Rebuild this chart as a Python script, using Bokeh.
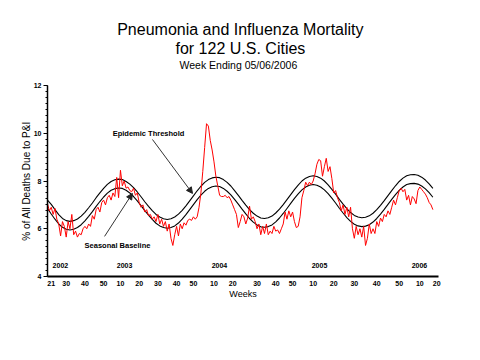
from bokeh.plotting import figure
from bokeh.models import (Label, Arrow, NormalHead, FixedTicker, SingleIntervalTicker,
                          Range1d, ColumnDataSource, Title)
from bokeh.core.properties import value
from bokeh.embed import file_html
from bokeh.resources import INLINE

# ---- data (week index 0 = 2002 week 21) ----
observed = [
    7.05, 6.75, 6.9, 6.6, 6.85, 6.4, 6.2, 5.7, 6.3, 6.1,
    5.65, 6.3, 6.0, 6.6, 5.75, 5.9, 5.65, 5.8, 5.75, 6.0,
    6.1, 6.0, 6.2, 6.1, 6.55, 6.4, 6.8, 6.9, 6.7, 7.1,
    7.2, 7.0, 7.3, 7.4, 7.2, 7.5, 7.35, 8.15, 7.3, 8.45,
    7.8, 8.0, 7.7, 7.75, 7.6, 7.55, 7.7, 7.4, 7.5, 7.1,
    6.9, 7.0, 6.7, 6.8, 6.55, 6.6, 6.4, 6.5, 6.3, 6.6,
    6.2, 6.4, 6.1, 6.3, 5.9, 6.2, 5.6, 5.3, 5.75, 6.1,
    5.7, 6.2, 6.0, 6.25, 6.15, 6.35, 6.4, 6.35, 6.5, 6.4,
    6.5, 6.9, 7.5, 8.4, 9.4, 10.4, 10.3, 9.7, 9.3, 8.8,
    8.2, 7.8, 7.4, 7.35, 7.35, 7.4, 7.3, 7.35, 7.2, 7.0,
    6.8, 6.6, 6.05, 6.3, 6.6, 6.5, 6.2, 6.45, 6.95, 6.4,
    6.5, 6.3, 6.0, 6.2, 5.75, 6.1, 5.8, 6.2, 5.75, 5.9,
    5.8, 6.1, 5.9, 5.95, 5.8, 6.0, 6.2, 6.7, 6.4, 6.75,
    6.5, 6.7, 6.3, 6.05, 6.1, 6.5, 7.3, 7.6, 7.95, 7.8,
    7.95, 7.85, 8.0, 8.3, 8.7, 8.9, 8.85, 8.2, 8.6, 8.95,
    8.4, 8.6, 8.1, 7.5, 7.6, 7.3, 7.1, 6.75, 7.0, 6.6,
    6.9, 6.5, 6.9, 6.0, 5.6, 6.1, 5.75, 6.0, 5.65, 6.1,
    5.3, 5.6, 6.2, 5.8, 6.0, 5.8, 6.3, 6.1, 6.45, 6.3,
    6.6, 6.5, 6.75, 6.6, 6.9, 7.2, 7.0, 7.3, 7.6, 7.7,
    7.55, 7.65, 7.2, 7.4, 7.0, 7.35, 7.25, 7.05, 7.6, 7.75,
    7.65, 7.55, 7.45, 7.3, 7.1, 7.0, 6.8,
]
weeks = list(range(len(observed)))

curve_weeks = list(range(0, 207, 2))
baseline = [
    6.85, 6.62, 6.40, 6.20, 6.06, 5.98, 5.95,
    5.98, 6.05, 6.17, 6.33, 6.52, 6.72, 6.94, 7.14, 7.33, 7.49, 7.61, 7.68, 7.71,
    7.69, 7.61, 7.50, 7.35, 7.17, 6.97, 6.76, 6.57, 6.39, 6.23, 6.12, 6.05, 6.02,
    6.05, 6.12, 6.24, 6.40, 6.59, 6.80, 7.01, 7.22, 7.41, 7.57, 7.69, 7.76, 7.79,
    7.77, 7.69, 7.57, 7.42, 7.23, 7.03, 6.82, 6.62, 6.43, 6.28, 6.16, 6.08, 6.06,
    6.09, 6.16, 6.29, 6.45, 6.64, 6.85, 7.06, 7.27, 7.46, 7.63, 7.75, 7.82, 7.85,
    7.82, 7.75, 7.63, 7.47, 7.28, 7.08, 6.86, 6.66, 6.47, 6.31, 6.19, 6.12, 6.09,
    6.11, 6.17, 6.28, 6.43, 6.61, 6.81, 7.02, 7.23, 7.43, 7.61, 7.75, 7.85, 7.89, 7.90,
    7.87, 7.79, 7.67, 7.51, 7.32,
]
threshold = [
    7.20, 7.02, 6.80, 6.59, 6.43, 6.34, 6.31,
    6.34, 6.41, 6.53, 6.69, 6.88, 7.08, 7.30, 7.50, 7.69, 7.86, 7.98, 8.05, 8.08,
    8.06, 7.98, 7.87, 7.72, 7.54, 7.34, 7.13, 6.94, 6.76, 6.60, 6.49, 6.42, 6.39,
    6.42, 6.49, 6.61, 6.77, 6.96, 7.17, 7.38, 7.59, 7.78, 7.94, 8.06, 8.13, 8.16,
    8.14, 8.06, 7.94, 7.79, 7.60, 7.40, 7.19, 6.99, 6.80, 6.65, 6.53, 6.45, 6.43,
    6.46, 6.53, 6.66, 6.82, 7.01, 7.22, 7.43, 7.64, 7.83, 8.00, 8.12, 8.19, 8.22,
    8.19, 8.12, 8.00, 7.84, 7.65, 7.45, 7.23, 7.03, 6.84, 6.68, 6.56, 6.49, 6.46,
    6.48, 6.54, 6.65, 6.80, 6.98, 7.18, 7.39, 7.60, 7.80, 7.98, 8.12, 8.22, 8.26, 8.27,
    8.24, 8.16, 8.04, 7.88, 7.69,
]

tick_labels = ["21", "30", "40", "50", "10", "20", "30", "40", "50", "10", "20",
               "30", "40", "50", "10", "20", "30", "40", "50", "10", "20"]
tick_pos = [2, 10, 20, 30, 39, 49, 59, 69, 78, 89, 99,
            112, 122, 131, 142, 153, 164, 176, 188, 199, 208]
years = ["2002", "2003", "2004", "2005", "2006"]
year_pos = [6.9, 41.2, 91.9, 145.4, 198.8]

FONT = "Liberation Sans"

p = figure(width=472, height=352, x_range=Range1d(0, 209), y_range=Range1d(4, 12),
           output_backend="svg", toolbar_location=None,
           min_border_left=47, min_border_right=34, min_border_top=85, min_border_bottom=76)
p.outline_line_color = None
p.grid.visible = False

# titles (first added = nearest the plot); a blank spacer keeps a gap above the frame
p.add_layout(Title(text=" ", text_font=FONT, text_font_size="1px", standoff=12), "above")
p.add_layout(Title(text="Week Ending 05/06/2006", text_font=FONT, text_font_size="10.5px",
                   text_font_style="normal", text_color="black", align="left",
                   offset=132, standoff=0), "above")
p.add_layout(Title(text="for 122 U.S. Cities", text_font=FONT, text_font_size="16px",
                   text_font_style="normal", text_color="black", align="left",
                   offset=128, standoff=0), "above")
p.add_layout(Title(text="Pneumonia and Influenza Mortality", text_font=FONT,
                   text_font_size="16px", text_font_style="normal", text_color="black",
                   align="left", offset=69.7, standoff=0), "above")

# lines
p.line(curve_weeks, threshold, line_color="black", line_width=1.1)
p.line(curve_weeks, baseline, line_color="black", line_width=1.1)
p.line(weeks, observed, line_color="#ff0000", line_width=1)

# axes
xa = p.xaxis[0]
xa.ticker = FixedTicker(ticks=tick_pos)
xa.major_label_overrides = {tp: lab for tp, lab in zip(tick_pos, tick_labels)}
xa.major_tick_out = 0
xa.major_tick_in = 0
xa.minor_tick_line_color = None
xa.axis_line_width = 2
xa.axis_line_color = "black"
xa.major_label_text_font = FONT
xa.major_label_text_font_size = "7px"
xa.major_label_text_font_style = "bold"
xa.major_label_text_color = "black"
xa.major_label_standoff = 4
xa.axis_label = "Weeks"
xa.axis_label_text_font = FONT
xa.axis_label_text_font_size = "9px"
xa.axis_label_text_font_style = "normal"
xa.axis_label_text_color = "black"
xa.axis_label_standoff = 0

ya = p.yaxis[0]
ya.ticker = SingleIntervalTicker(interval=2, num_minor_ticks=8)
ya.major_tick_out = 4
ya.major_tick_in = 0
ya.minor_tick_out = 2
ya.minor_tick_in = 0
ya.axis_line_width = 1.5
ya.axis_line_color = "black"
ya.major_tick_line_color = "black"
ya.minor_tick_line_color = "black"
ya.major_label_text_font = FONT
ya.major_label_text_font_size = "7px"
ya.major_label_text_font_style = "bold"
ya.major_label_text_color = "black"
ya.major_label_standoff = 2
ya.axis_label = "% of All Deaths Due to P&I"
ya.axis_label_text_font = FONT
ya.axis_label_text_font_size = "10px"
ya.axis_label_text_font_style = "normal"
ya.axis_label_text_color = "black"
ya.axis_label_standoff = -1

# year labels
ysrc = ColumnDataSource(dict(x=year_pos, y=[4.46] * len(years), t=years))
p.text(x="x", y="y", text="t", source=ysrc, text_font=value(FONT), text_font_size="7px",
       text_font_style="bold", text_align="center", text_baseline="middle", text_color="black")

# annotations
p.add_layout(Label(x=54.0, y=9.99, text="Epidemic Threshold", text_font=FONT,
                   text_font_size="7.5px", text_font_style="bold", text_align="center",
                   text_baseline="middle", text_color="black"))
p.add_layout(Label(x=37.4, y=5.30, text="Seasonal Baseline", text_font=FONT,
                   text_font_size="7.5px", text_font_style="bold", text_align="center",
                   text_baseline="middle", text_color="black"))
p.add_layout(Arrow(end=NormalHead(size=6, fill_color="#222222", line_color="#222222"),
                   x_start=56.1, y_start=9.74, x_end=77.5, y_end=7.48,
                   line_color="#333333", line_width=1))
p.add_layout(Arrow(end=NormalHead(size=6, fill_color="#222222", line_color="#222222"),
                   x_start=30.5, y_start=5.68, x_end=45.4, y_end=7.48,
                   line_color="#333333", line_width=1))

open("out.html", "w").write(file_html(p, INLINE))
